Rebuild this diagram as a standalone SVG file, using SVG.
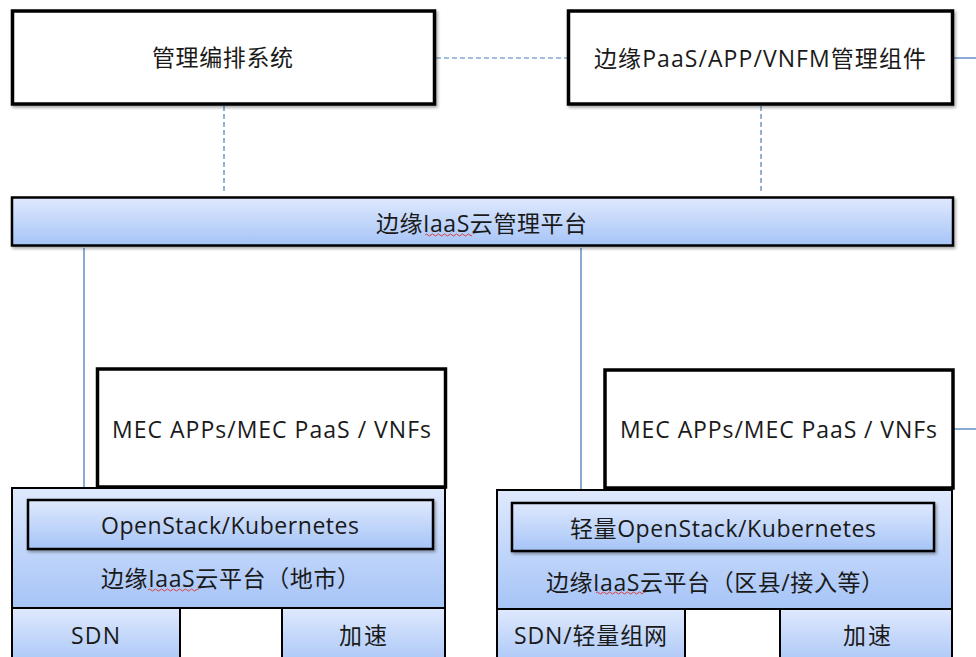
<svg xmlns="http://www.w3.org/2000/svg" width="976" height="657" viewBox="0 0 976 657">
<defs>
<linearGradient id="blue" x1="0" y1="0" x2="0" y2="1">
<stop offset="0" stop-color="#dfe9fd"/>
<stop offset="1" stop-color="#a6c4f7"/>
</linearGradient>
<filter id="sh" x="-5%" y="-10%" width="110%" height="130%">
<feDropShadow dx="1.5" dy="2" stdDeviation="1.5" flood-color="#000" flood-opacity="0.35"/>
</filter>
</defs>
<style>
text{font-family:"Open Sans","Noto Sans CJK SC",sans-serif;font-size:23px;fill:#1a1a1a;dominant-baseline:central}
.white{fill:#fff;stroke:#000;stroke-width:3.5}
.grad{fill:url(#blue);stroke:#000;stroke-width:2.5}
.gradt{fill:url(#blue);stroke:#000;stroke-width:2}
.dash{stroke:#4a7ebb;stroke-width:1.2;stroke-dasharray:5 3;fill:none}
.solid{stroke:#4a7ebb;stroke-width:1.3;fill:none}
.sq{stroke:#e03030;stroke-width:0.9;fill:none}
</style>
<rect width="976" height="657" fill="#fff"/>
<g id="connectors">
<line class="dash" x1="436" y1="58" x2="567" y2="58"/>
<line class="solid" x1="954" y1="58" x2="976" y2="58"/>
<line class="dash" x1="224" y1="106" x2="224" y2="192"/>
<line class="dash" x1="761" y1="106" x2="761" y2="192"/>
<line class="solid" x1="84" y1="248" x2="84" y2="487"/>
<line class="solid" x1="581" y1="248" x2="581" y2="489"/>
<line class="solid" x1="954" y1="429" x2="976" y2="429"/>
</g>
<g id="orchestrator">
<rect class="white" x="12.5" y="11" width="422" height="93" filter="url(#sh)"/>
<text x="152" y="57" textLength="141" lengthAdjust="spacing">管理编排系统</text>
</g>
<g id="paas-mgmt">
<rect class="white" x="568.5" y="11" width="384" height="93" filter="url(#sh)"/>
<text x="594" y="58" textLength="332" lengthAdjust="spacing">边缘PaaS/APP/VNFM管理组件</text>
</g>
<g id="iaas-mgmt">
<rect class="grad" x="12" y="197.5" width="941" height="48" filter="url(#sh)"/>
<text x="376" y="223" textLength="211" lengthAdjust="spacing">边缘IaaS云管理平台</text>
<path class="sq" d="M425 235 q1.5 -2 3 0 t3 0 t3 0 t3 0 t3 0 t3 0 t3 0 t3 0 t3 0 t3 0 t3 0 t3 0 t3 0 t3 0 t3 0 t2 0"/>
</g>
<g id="mec-left">
<rect class="white" x="97.5" y="369" width="348" height="118"/>
<text x="112" y="429" textLength="319" lengthAdjust="spacing">MEC APPs/MEC PaaS / VNFs</text>
</g>
<g id="mec-right">
<rect class="white" x="605" y="370" width="348" height="118"/>
<text x="620" y="429" textLength="317" lengthAdjust="spacing">MEC APPs/MEC PaaS / VNFs</text>
</g>
<g id="platform-left">
<rect class="gradt" x="12" y="488" width="433" height="120"/>
<rect class="grad" x="28" y="500" width="405" height="49" filter="url(#sh)"/>
<text x="101" y="525" textLength="258" lengthAdjust="spacing">OpenStack/Kubernetes</text>
<text x="101" y="578" textLength="259" lengthAdjust="spacing">边缘IaaS云平台（地市）</text>
<path class="sq" d="M148 590 q1.5 -2 3 0 t3 0 t3 0 t3 0 t3 0 t3 0 t3 0 t3 0 t3 0 t3 0 t3 0 t3 0 t3 0 t3 0 t3 0 t3 0 t2 0"/>
</g>
<g id="sdn-left">
<rect class="gradt" x="12" y="608" width="168" height="60"/>
<text x="71" y="635" textLength="49" lengthAdjust="spacing">SDN</text>
</g>
<g id="acc-left">
<rect class="gradt" x="282" y="608" width="163" height="60"/>
<text x="339" y="635" textLength="48" lengthAdjust="spacing">加速</text>
</g>
<g id="platform-right">
<rect class="gradt" x="497" y="490" width="455" height="119"/>
<rect class="grad" x="512" y="503" width="422" height="48" filter="url(#sh)"/>
<text x="570" y="528" textLength="306" lengthAdjust="spacing">轻量OpenStack/Kubernetes</text>
<text x="546" y="582" textLength="338" lengthAdjust="spacing">边缘IaaS云平台（区县/接入等）</text>
<path class="sq" d="M596 593 q1.5 -2 3 0 t3 0 t3 0 t3 0 t3 0 t3 0 t3 0 t3 0 t3 0 t3 0 t3 0 t3 0 t3 0 t3 0 t3 0 t2 0"/>
</g>
<g id="sdn-right">
<rect class="gradt" x="497" y="609" width="188" height="60"/>
<text x="514" y="635" textLength="153" lengthAdjust="spacing">SDN/轻量组网</text>
</g>
<g id="acc-right">
<rect class="gradt" x="780" y="609" width="172" height="60"/>
<text x="843" y="635" textLength="48" lengthAdjust="spacing">加速</text>
</g>
</svg>
